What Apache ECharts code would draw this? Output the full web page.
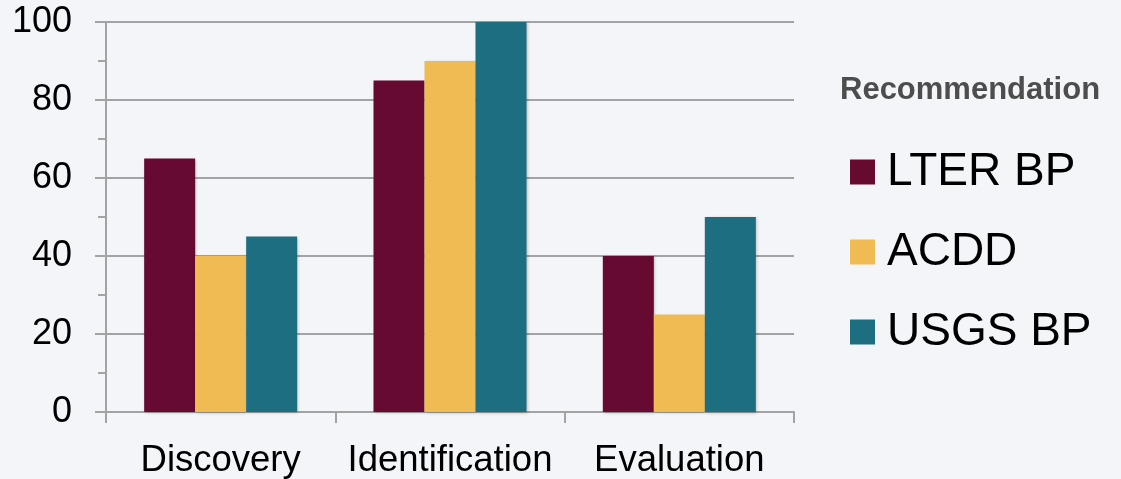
<!DOCTYPE html>
<html>
<head>
<meta charset="utf-8">
<script src="https://cdn.jsdelivr.net/npm/echarts@6/dist/echarts.min.js"></script>
<style>
  html, body { margin: 0; padding: 0; background: #f3f5f9; }
  #chart { width: 1121px; height: 479px; }
</style>
</head>
<body>
<div id="chart"></div>
<script>
// Share of datasets meeting each recommendation, by metadata standard
const categories = ['Discovery', 'Identification', 'Evaluation'];
const seriesNames = ['LTER BP', 'ACDD', 'USGS BP'];
const lterBP = [65, 85, 40];
const acdd = [40, 90, 25];
const usgsBP = [45, 100, 50];
const yTicks = [0, 20, 40, 60, 80, 100];

const colors = ['#660a32', '#f0bb52', '#1e6e82'];
const values = [lterBP, acdd, usgsBP];
const fontFamily = 'Liberation Sans, Arial, Helvetica, sans-serif';
const axisGray = '#a3a3a3';

const chart = echarts.init(document.getElementById('chart'));
chart.setOption({
  backgroundColor: '#f3f5f9',
  animation: false,
  color: colors,
  title: {
    text: 'Recommendation',
    left: 840,
    top: 75,
    padding: 0,
    textStyle: { fontFamily, fontSize: 31, fontWeight: 'bold', color: '#4d4d4d' }
  },
  legend: {
    orient: 'vertical',
    left: 850,
    top: 146,
    padding: 0,
    icon: 'rect',
    itemWidth: 25,
    itemHeight: 25,
    itemGap: 28,
    data: seriesNames,
    textStyle: { fontFamily, fontSize: 46, lineHeight: 46, color: '#000', padding: [6, 0, 0, 7] }
  },
  grid: { left: 106, right: 327, top: 22, bottom: 66 },
  xAxis: {
    type: 'category',
    data: categories,
    axisLine: { lineStyle: { color: axisGray, width: 2 } },
    axisTick: { show: true, interval: 0, length: 11, lineStyle: { color: axisGray, width: 2 } },
    axisLabel: { interval: 0, hideOverlap: false, fontFamily, fontSize: 36.5, color: '#000', margin: 30 }
  },
  yAxis: {
    type: 'value',
    min: yTicks[0],
    max: yTicks[yTicks.length - 1],
    interval: 20,
    axisLine: { show: true, lineStyle: { color: axisGray, width: 2 } },
    axisTick: { show: true, length: 11, lineStyle: { color: axisGray, width: 2 } },
    minorTick: { show: true, splitNumber: 2, length: 8, lineStyle: { color: axisGray, width: 2 } },
    splitLine: { show: true, lineStyle: { color: axisGray, width: 2 } },
    axisLabel: { fontFamily, fontSize: 36, color: '#000', margin: 34 }
  },
  series: seriesNames.map((name, i) => ({
    name,
    type: 'bar',
    data: values[i],
    barWidth: 51,
    barGap: '0%',
    itemStyle: {
      color: colors[i],
      shadowBlur: 3,
      shadowColor: 'rgba(0,0,0,0.25)',
      shadowOffsetX: 1,
      shadowOffsetY: 1
    }
  }))
});
</script>
</body>
</html>
